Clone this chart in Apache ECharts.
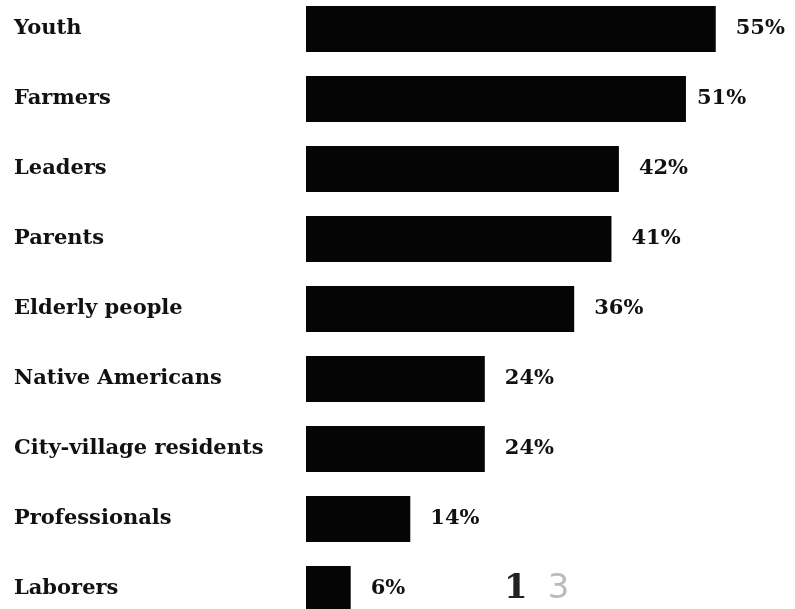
<!DOCTYPE html>
<html><head><meta charset="utf-8">
<script src="https://cdn.jsdelivr.net/npm/echarts@6/dist/echarts.min.js"></script>
<style>html,body{margin:0;padding:0;background:#fff}#c{width:795px;height:609px}</style>
</head><body><div id="c"></div>
<script>
const categories = ["Youth","Farmers","Leaders","Parents","Elderly people","Native Americans","City-village residents","Professionals","Laborers"];
const values = [55,51,42,41,36,24,24,14,6];
const pageNumber = "13";

const chart = echarts.init(document.getElementById('c'));
const font = "'DejaVu Serif', serif";
chart.setOption({
  animation:false,
  backgroundColor:'#fff',
  grid:{left:306,right:42,top:29,height:560,containLabel:false},
  xAxis:{type:'value',min:0,max:60,show:false},
  yAxis:{type:'category',data:categories,inverse:true,boundaryGap:false,
    axisLine:{show:false},axisTick:{show:false},splitLine:{show:false},
    axisLabel:{align:'left',margin:292,color:'#111',fontFamily:font,fontSize:21,fontWeight:'bold'}},
  series:[{type:'bar',barWidth:46,
    data:values.map((v,i)=>({value:v,label:{distance:i===1?11:20}})),
    itemStyle:{color:'#050505'},
    label:{show:true,position:'right',color:'#111',fontFamily:font,fontSize:21,fontWeight:'bold',formatter:p=>p.value+'%'}}],
  graphic:[{type:'text',left:504,top:572,style:{
    text:'{a|'+pageNumber[0]+'}{g|}{b|'+pageNumber[1]+'}',
    rich:{a:{fill:'#222',font:"bold 34px 'DejaVu Serif', serif"},
          g:{width:20},
          b:{fill:'#bbb',font:"34px 'DejaVu Sans', sans-serif"}}}}]
});
</script></body></html>
